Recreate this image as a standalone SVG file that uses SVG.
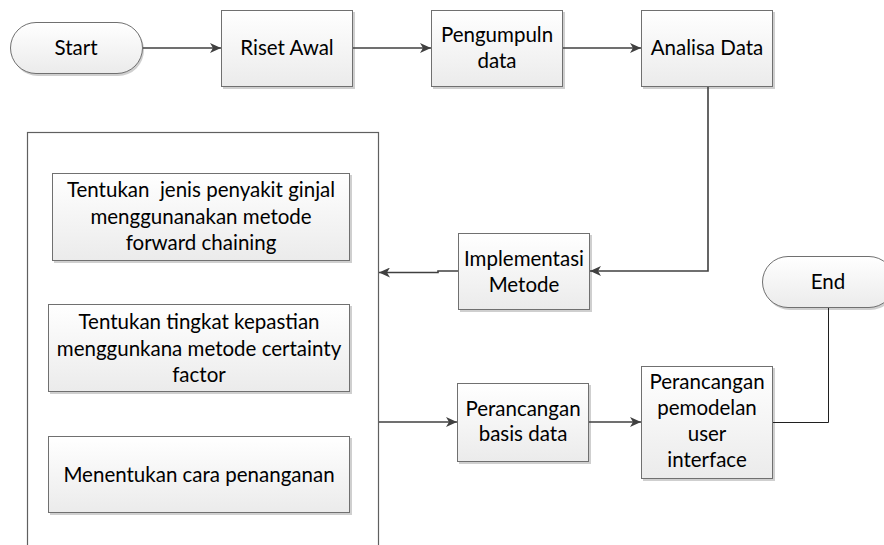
<svg xmlns="http://www.w3.org/2000/svg" width="884" height="545" viewBox="0 0 884 545">
<defs>
<linearGradient id="g" x1="0" y1="0" x2="0" y2="1">
<stop offset="0" stop-color="#ffffff"/>
<stop offset="1" stop-color="#ebebeb"/>
</linearGradient>
<marker id="ah" markerWidth="12" markerHeight="10" refX="11" refY="5" orient="auto" markerUnits="userSpaceOnUse">
<path d="M0,0 L11,5 L0,10 L3,5 Z" fill="#404040"/>
</marker>
</defs>
<style>
.box{fill:url(#g);stroke:#707070;stroke-width:1}
.sh{fill:#cfcfcf}
.t{font-family:Lato,"Open Sans",sans-serif;font-size:20.5px;fill:#000;text-anchor:middle}
.c{fill:none;stroke:#404040;stroke-width:1.6}
.c2{fill:none;stroke:#202020;stroke-width:1}
</style>
<rect width="884" height="545" fill="#fff"/>
<g id="container">
<rect x="27.5" y="132.5" width="351" height="430" fill="#fff" stroke="#606060" stroke-width="1.2"/>
</g>
<g id="start">
<rect x="12" y="24" width="132" height="52" rx="26" class="sh"/>
<rect x="10.5" y="22.5" width="132" height="51" rx="25.5" class="box"/>
<text x="76" y="55" class="t">Start</text>
</g>
<g id="riset">
<rect x="223" y="12" width="132" height="77" class="sh"/>
<rect x="221.5" y="10.5" width="131" height="76" class="box"/>
<text x="287" y="55" class="t">Riset Awal</text>
</g>
<g id="pengumpuln">
<rect x="433" y="12" width="132" height="77" class="sh"/>
<rect x="431.5" y="10.5" width="131" height="76" class="box"/>
<text x="497" y="42" class="t">Pengumpuln</text>
<text x="497" y="68" class="t">data</text>
</g>
<g id="analisa">
<rect x="643" y="12" width="132" height="77" class="sh"/>
<rect x="641.5" y="10.5" width="131" height="76" class="box"/>
<text x="707" y="55" class="t">Analisa Data</text>
</g>
<g id="implementasi">
<rect x="460" y="235" width="132" height="77" class="sh"/>
<rect x="458.5" y="233.5" width="131" height="76" class="box"/>
<text x="524" y="266" class="t">Implementasi</text>
<text x="524" y="292" class="t">Metode</text>
</g>
<g id="end">
<rect x="764" y="258" width="132" height="52" rx="26" class="sh"/>
<rect x="762.5" y="256.5" width="132" height="51" rx="25.5" class="box"/>
<text x="828" y="289" class="t">End</text>
</g>
<g id="tentukan-jenis">
<rect x="54" y="175" width="298" height="88" class="sh"/>
<rect x="52.5" y="173.5" width="297" height="87" class="box"/>
<text x="201" y="197" class="t" xml:space="preserve">Tentukan  jenis penyakit ginjal</text>
<text x="201" y="224" class="t">menggunanakan metode</text>
<text x="201" y="250" class="t">forward chaining</text>
</g>
<g id="tentukan-tingkat">
<rect x="50" y="306" width="302" height="88" class="sh"/>
<rect x="48.5" y="304.5" width="301" height="87" class="box"/>
<text x="199" y="329" class="t">Tentukan tingkat kepastian</text>
<text x="199" y="356" class="t">menggunkana metode certainty</text>
<text x="199" y="382" class="t">factor</text>
</g>
<g id="menentukan">
<rect x="50" y="438" width="302" height="77" class="sh"/>
<rect x="48.5" y="436.5" width="301" height="76" class="box"/>
<text x="199" y="482" class="t">Menentukan cara penanganan</text>
</g>
<g id="basis">
<rect x="459" y="385" width="132" height="79" class="sh"/>
<rect x="457.5" y="383.5" width="131" height="78" class="box"/>
<text x="523" y="416" class="t">Perancangan</text>
<text x="523" y="441" class="t">basis data</text>
</g>
<g id="pemodelan">
<rect x="643" y="368" width="132" height="113" class="sh"/>
<rect x="641.5" y="366.5" width="131" height="112" class="box"/>
<text x="707" y="389" class="t">Perancangan</text>
<text x="707" y="415" class="t">pemodelan</text>
<text x="707" y="441" class="t">user</text>
<text x="707" y="467" class="t">interface</text>
</g>
<g id="connectors">
<path class="c" d="M143,48 H221" marker-end="url(#ah)"/>
<path class="c" d="M353,48 H431" marker-end="url(#ah)"/>
<path class="c" d="M563,48 H641" marker-end="url(#ah)"/>
<path class="c" d="M708,87 V271 H590" marker-end="url(#ah)"/>
<path class="c" d="M458,271 H438 V272.5 H379" marker-end="url(#ah)"/>
<path class="c" d="M379,422 H457" marker-end="url(#ah)"/>
<path class="c" d="M589,422 H641" marker-end="url(#ah)"/>
<path class="c2" d="M773,422.5 H828.5 V308"/>
</g>
</svg>
